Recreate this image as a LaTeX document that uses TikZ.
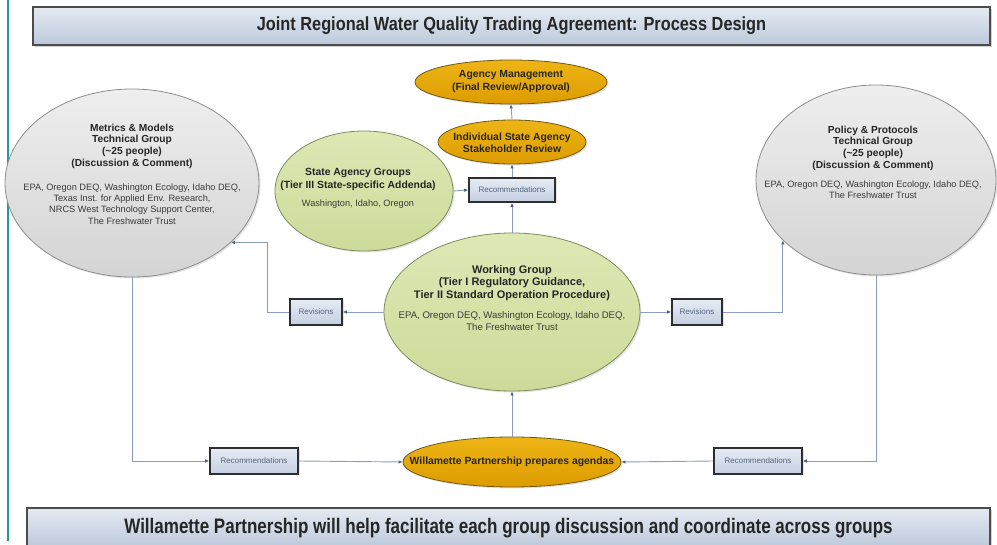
\documentclass[tikz,border=0pt]{standalone}
\usepackage{fontspec}
\setmainfont{Liberation Sans}
\newfontfamily\narrowfont[FakeStretch=0.86]{Liberation Sans}
\newfontfamily\narrowfooter[FakeStretch=0.81]{Liberation Sans}
\usetikzlibrary{shapes.geometric,arrows.meta,shadows,calc}
\definecolor{grayTop}{HTML}{EEEEEE}
\definecolor{grayBot}{HTML}{D4D4D4}
\definecolor{grayBorder}{HTML}{8E8E8E}
\definecolor{greenTop}{HTML}{DDE8B4}
\definecolor{greenBot}{HTML}{CCDB9A}
\definecolor{greenBorder}{HTML}{7F8C5C}
\definecolor{goldTop}{HTML}{EEB415}
\definecolor{goldBot}{HTML}{DC9C00}
\definecolor{goldBorder}{HTML}{6E5A14}
\definecolor{boxTop}{HTML}{E6ECF4}
\definecolor{boxBot}{HTML}{C3CFE2}
\definecolor{boxBorder}{HTML}{2E2E2E}
\definecolor{boxText}{HTML}{55647F}
\definecolor{barTop}{HTML}{E4EAF2}
\definecolor{barBot}{HTML}{BCC8DA}
\definecolor{barBorder}{HTML}{4C4C4C}
\definecolor{connCol}{HTML}{8A9CC0}
\definecolor{tipCol}{HTML}{4A5E86}
\definecolor{textDark}{HTML}{262626}
\definecolor{textBody}{HTML}{3A3A3A}
\definecolor{tealLine}{HTML}{1B9C9C}
\begin{document}
\begin{tikzpicture}[x=1pt,y=-1pt,
  softshadow/.style={drop shadow={opacity=0.22,shadow xshift=1.5pt,shadow yshift=-1.5pt}},
  grayell/.style={ellipse,draw=grayBorder,line width=0.8pt,top color=grayTop,bottom color=grayBot,inner sep=0pt,softshadow},
  greenell/.style={ellipse,draw=greenBorder,line width=0.8pt,top color=greenTop,bottom color=greenBot,inner sep=0pt,softshadow},
  goldell/.style={ellipse,draw=goldBorder,line width=0.8pt,top color=goldTop,bottom color=goldBot,inner sep=0pt,softshadow},
  recbox/.style={rectangle,draw=boxBorder,line width=1.6pt,top color=boxTop,bottom color=boxBot,inner sep=0pt,text=boxText,font=\fontsize{8}{9}\selectfont,softshadow},
  bar/.style={rectangle,draw=barBorder,line width=1.4pt,top color=barTop,bottom color=barBot,inner sep=0pt,text=textDark,drop shadow={opacity=0.35,shadow xshift=2pt,shadow yshift=-2pt}},
  head/.style={align=center,inner sep=0pt,text=textDark,font=\fontsize{10.2}{11.7}\selectfont\bfseries},
  body/.style={align=center,inner sep=0pt,text=textBody,font=\fontsize{9.2}{11.3}\selectfont},
  conn/.style={draw=connCol,line width=0.9pt,-{Latex[length=4pt,width=3.5pt,color=tipCol]}}
]
\useasboundingbox (0,0) rectangle (997,545);
\fill[white] (0,0) rectangle (997,545);
\draw[tealLine,line width=1.4pt] (8,0) -- (8,541);

% bars
\node[bar,minimum width=957pt,minimum height=38pt,font=\narrowfont\fontsize{19}{22}\selectfont\bfseries] (title) at (511.5,26) {Joint Regional Water Quality Trading Agreement: Process Design};
\node[bar,minimum width=963pt,minimum height=40pt,font=\narrowfooter\fontsize{21}{24}\selectfont\bfseries] (footer) at (508.5,528) {Willamette Partnership will help facilitate each group discussion and coordinate across groups};

% ellipses
\node[grayell,minimum width=254pt,minimum height=188pt] (mm) at (132,183) {};
\node[grayell,minimum width=240pt,minimum height=190pt] (pp) at (876,180) {};
\node[greenell,minimum width=178pt,minimum height=120pt] (sag) at (364,191) {};
\node[greenell,minimum width=256pt,minimum height=158pt] (wg) at (512,312) {};
\node[goldell,minimum width=192pt,minimum height=44pt] (am) at (511,82) {};
\node[goldell,minimum width=148pt,minimum height=44pt] (isr) at (512,142) {};
\node[goldell,minimum width=218pt,minimum height=50pt] (wp) at (512,462) {};

% texts
\node[head] (mmh) at (132,146) {Metrics \& Models\\Technical Group\\(\textasciitilde25 people)\\(Discussion \& Comment)};
\node[body] (mmb) at (132,204) {EPA, Oregon DEQ, Washington Ecology, Idaho DEQ,\\Texas Inst. for Applied Env. Research,\\NRCS West Technology Support Center,\\The Freshwater Trust};
\node[head] (pph) at (873,148) {Policy \& Protocols\\Technical Group\\(\textasciitilde25 people)\\(Discussion \& Comment)};
\node[body] (ppb) at (873,190) {EPA, Oregon DEQ, Washington Ecology, Idaho DEQ,\\The Freshwater Trust};
\node[head,font=\fontsize{10.4}{13}\selectfont\bfseries] (sagh) at (358,179) {State Agency Groups\\(Tier III State-specific Addenda)};
\node[body] (sagb) at (358,204) {Washington, Idaho, Oregon};
\node[head,font=\fontsize{11}{12.2}\selectfont\bfseries] (wgh) at (512,283) {Working Group\\(Tier I Regulatory Guidance,\\Tier II Standard Operation Procedure)};
\node[body,font=\fontsize{9.6}{12.5}\selectfont] (wgb) at (512,321) {EPA, Oregon DEQ, Washington Ecology, Idaho DEQ,\\The Freshwater Trust};
\node[head,font=\fontsize{10.4}{13}\selectfont\bfseries] (amt) at (511,82) {Agency Management\\(Final Review/Approval)};
\node[head,font=\fontsize{10.4}{12}\selectfont\bfseries] (isrt) at (512,143) {Individual State Agency\\Stakeholder Review};
\node[head,font=\fontsize{10.4}{12}\selectfont\bfseries] (wpt) at (512,462) {Willamette Partnership prepares agendas};

% boxes
\node[recbox,minimum width=86pt,minimum height=24pt] (rec1) at (512,190) {Recommendations};
\node[recbox,minimum width=52pt,minimum height=26pt] (rev1) at (316,312) {Revisions};
\node[recbox,minimum width=50pt,minimum height=26pt] (rev2) at (697,312) {Revisions};
\node[recbox,minimum width=88pt,minimum height=26pt] (recL) at (254,461) {Recommendations};
\node[recbox,minimum width=88pt,minimum height=26pt] (recR) at (758,461) {Recommendations};

% connectors
\coordinate (lb) at (267,0);
\path[conn] (wp.north) -- (wg.south);
\path[conn] (wg.north) -- (rec1.south);
\path[conn] (rec1.north) -- (isr.south);
\path[conn] (isr.north) -- (am.south);
\path[conn] (sag.east) -- (rec1.west);
\path[conn] (wg.west) -- (rev1.east);
\path[conn] (rev1.west) -| (lb |- mm.-31.5) -- (mm.-31.5);
\path[conn] (wg.east) -- (rev2.west);
\path[conn] (rev2.east) -| (pp.-147);
\path[conn] (mm.south) |- (recL.west);
\path[conn] (recL.east) -- (wp.west);
\path[conn] (pp.south) |- (recR.east);
\path[conn] (recR.west) -- (wp.east);
\end{tikzpicture}
\end{document}
